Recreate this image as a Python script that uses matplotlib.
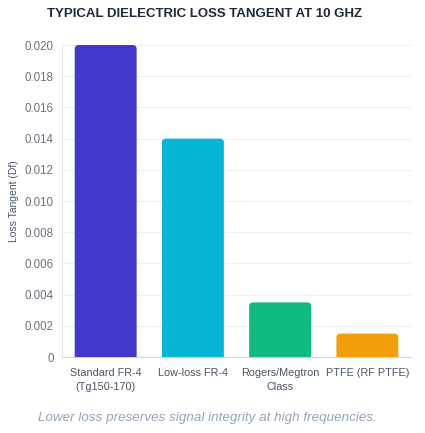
import matplotlib
matplotlib.use('Agg')
import matplotlib.pyplot as plt
from matplotlib.patches import PathPatch
from matplotlib.path import Path
from matplotlib.ticker import FuncFormatter

# Data
materials = ['Standard FR-4\n(Tg150-170)', 'Low-loss FR-4', 'Rogers/Megtron\nClass', 'PTFE (RF PTFE)']
loss_tangent = [0.020, 0.014, 0.0035, 0.0015]
bar_colors = ['#4338CA', '#06B6D4', '#10B981', '#F59E0B']
y_ticks = [0, 0.002, 0.004, 0.006, 0.008, 0.010, 0.012, 0.014, 0.016, 0.018, 0.020]

plt.rcParams['font.family'] = ['Liberation Sans', 'DejaVu Sans']

fig = plt.figure(figsize=(4.25, 4.33), dpi=100, facecolor='white')
ax = fig.add_axes([0.146, 0.1755, 0.821, 0.7205])

bars = ax.bar(range(len(materials)), loss_tangent, width=0.71, color=bar_colors)
ax.set_xlim(-0.5, 3.5)
ax.set_ylim(0, 0.020)

# rounded top corners: replace each bar with a path
fig.canvas.draw()
inv = ax.transData.inverted()
p0 = inv.transform((0, 0))
p1 = inv.transform((1, 1))
rx = 4 * (p1[0] - p0[0])
ry = 4 * (p1[1] - p0[1])
for bar, c in zip(bars, bar_colors):
    x, w, h = bar.get_x(), bar.get_width(), bar.get_height()
    bar.set_visible(False)
    verts = [(x, 0), (x, h - ry), (x, h), (x + rx, h), (x + w - rx, h),
             (x + w, h), (x + w, h - ry), (x + w, 0), (x, 0)]
    codes = [Path.MOVETO, Path.LINETO, Path.CURVE3, Path.CURVE3, Path.LINETO,
             Path.CURVE3, Path.CURVE3, Path.LINETO, Path.CLOSEPOLY]
    ax.add_patch(PathPatch(Path(verts, codes), facecolor=c, edgecolor='none', zorder=3))

ax.set_yticks(y_ticks)
ax.yaxis.set_major_formatter(FuncFormatter(lambda v, p: '0' if v == 0 else f'{v:.3f}'))
ax.set_xticks(range(len(materials)))
ax.set_xticklabels(materials, fontsize=7.8, color='#4b5563', linespacing=1.45)
ax.tick_params(axis='y', labelsize=8.3, colors='#6b7280', length=0, pad=6)
ax.tick_params(axis='x', length=0, pad=8)

ax.yaxis.grid(True, color='#f0f0f0', linewidth=0.8)
ax.set_axisbelow(True)
for s in ['top', 'right']:
    ax.spines[s].set_visible(False)
ax.spines['left'].set_color('#e5e7eb')
ax.spines['bottom'].set_color('#d1d5db')

ax.set_ylabel('Loss Tangent (Df)', fontsize=7.5, color='#4b5563', labelpad=4)

fig.text(0.482, 0.968, 'TYPICAL DIELECTRIC LOSS TANGENT AT 10 GHZ', ha='center', va='center',
         fontsize=9.5, fontweight='bold', color='#1f2937')
fig.text(0.488, 0.035, 'Lower loss preserves signal integrity at high frequencies.', ha='center',
         va='center', fontsize=9.6, style='italic', color='#94a3b8')

fig.savefig('out.png', dpi=100, facecolor='white')
